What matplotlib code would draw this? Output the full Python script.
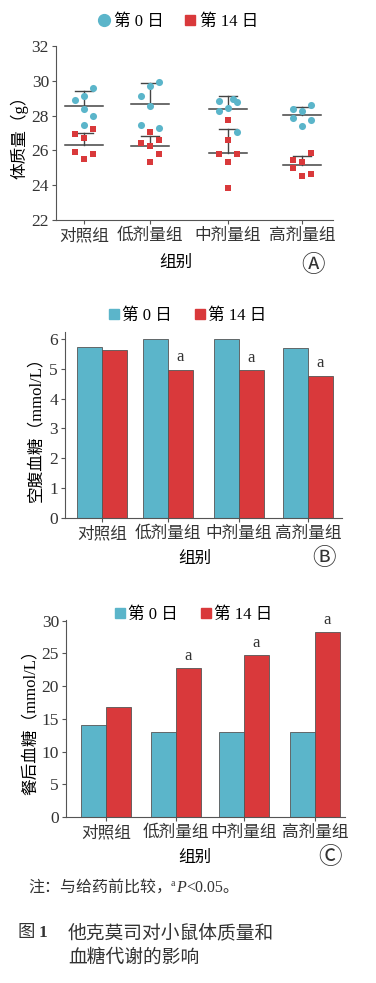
import matplotlib as mpl
import matplotlib.pyplot as plt
from matplotlib.lines import Line2D

mpl.rcParams['font.family'] = ['Liberation Serif', 'Noto Sans CJK SC', 'DejaVu Sans']
mpl.rcParams['font.size'] = 11.5
mpl.rcParams['axes.linewidth'] = 0.8
mpl.rcParams['axes.edgecolor'] = '#555555'
mpl.rcParams['xtick.color'] = '#555555'
mpl.rcParams['ytick.color'] = '#555555'
mpl.rcParams['xtick.labelcolor'] = '#333333'
mpl.rcParams['ytick.labelcolor'] = '#333333'

CYAN = '#5bb5ca'
RED = '#d9393b'
DARK = '#444444'

groups = ['对照组', '低剂量组', '中剂量组', '高剂量组']
legend_labels = ['第 0 日', '第 14 日']

# panel A: body weight (g), individual mice
day0_weight = [
    [28.90, 29.15, 29.59, 28.40, 27.96, 27.46],
    [29.93, 29.72, 29.15, 28.55, 27.46, 27.31],
    [28.86, 28.95, 28.80, 28.46, 28.26, 27.08],
    [28.38, 28.59, 28.25, 27.84, 27.75, 27.42],
]
day14_weight = [
    [26.96, 27.21, 26.73, 25.93, 25.77, 25.51],
    [27.04, 26.62, 26.43, 26.25, 25.77, 25.33],
    [27.73, 26.58, 25.77, 25.77, 25.33, 23.86],
    [25.85, 25.45, 25.35, 24.97, 24.62, 24.55],
]
day0_mean = [28.55, 28.69, 28.40, 28.05]
day0_sd = [0.86, 1.16, 0.75, 0.43]
day14_mean = [26.33, 26.25, 25.87, 25.18]
day14_sd = [0.69, 0.56, 1.34, 0.48]

# panel B: fasting glucose (mmol/L)
fasting_day0 = [5.73, 5.99, 5.98, 5.68]
fasting_day14 = [5.62, 4.97, 4.95, 4.77]
fasting_sig = [False, True, True, True]

# panel C: postprandial glucose (mmol/L)
post_day0 = [14.0, 13.0, 13.0, 13.0]
post_day14 = [16.8, 22.8, 24.8, 28.3]
post_sig = [False, True, True, True]

# layout (pixel-like x units inside each axes)
W, H = 376, 983
pos_a = [28, 94, 172, 246]
jit0 = [[-1, 0, 1, 0, 1, 0], [1, 0, -1, 0, -1, 1], [-1, 0.5, 1, 0, -1, 1], [-1, 1, 0, -1, 1, 0]]
jit14 = [[-1, 1, 0, -1, 1, 0], [0, 1, -1, 0, 1, 0], [0, 0, -1, 1, 0, 0], [1, -1, 0, -1, 1, 0]]
pos_b = [37, 103, 174, 243]
pos_c = [40, 110, 178, 249]
bw = 25


def px_axes(left, top, right, bottom):
    return fig.add_axes([left / W, 1 - bottom / H, (right - left) / W, (bottom - top) / H])


def style(ax):
    for s in ['top', 'right']:
        ax.spines[s].set_visible(False)
    ax.tick_params(direction='out', length=3, width=0.8, labelsize=12.5, pad=2)
    ax.tick_params(axis='x', labelsize=12, pad=3)


fig = plt.figure(figsize=(W / 100, H / 100), dpi=100)

# ---------- A ----------
axA = px_axes(56, 46, 333, 220)
style(axA)
for i in range(4):
    axA.scatter([pos_a[i] + 9 * j for j in jit0[i]], day0_weight[i], s=26, marker='o',
                color=CYAN, zorder=3, linewidths=0)
    axA.scatter([pos_a[i] + 9 * j for j in jit14[i]], day14_weight[i], s=22, marker='s',
                color=RED, zorder=3, linewidths=0)
    for m, sd in [(day0_mean[i], day0_sd[i]), (day14_mean[i], day14_sd[i])]:
        axA.plot([pos_a[i] - 19, pos_a[i] + 19], [m, m], color=DARK, lw=1.1, zorder=2)
        axA.plot([pos_a[i], pos_a[i]], [m, m + sd], color=DARK, lw=1.0, zorder=2)
        axA.plot([pos_a[i] - 9, pos_a[i] + 9], [m + sd, m + sd], color=DARK, lw=1.0, zorder=2)
axA.set_xlim(0, 277)
axA.set_ylim(22, 32)
axA.set_yticks(range(22, 33, 2))
axA.set_xticks(pos_a)
axA.set_xticklabels(groups)
axA.set_ylabel('体质量（g）', fontsize=12, labelpad=2)
hA = [Line2D([], [], marker='o', ls='', color=CYAN, ms=8.5),
      Line2D([], [], marker='s', ls='', color=RED, ms=6.5)]
fig.legend(hA, legend_labels, loc='center', bbox_to_anchor=(176 / W, 1 - 22 / H), ncol=2,
           frameon=False, handletextpad=0.0, columnspacing=1.0, handlelength=1.2, fontsize=12)
fig.text(176 / W, 1 - 263 / H, '组别', ha='center', va='center', fontsize=12)
fig.text(313 / W, 1 - 265 / H, 'Ⓐ', ha='center', va='center', fontsize=17,
         family=['DejaVu Sans', 'Noto Sans CJK SC'], color='#333333')


def bars(ax, pos, v0, v14, sig):
    ax.bar([p - bw / 2 for p in pos], v0, width=bw, color=CYAN, edgecolor='#555555', lw=0.6)
    ax.bar([p + bw / 2 for p in pos], v14, width=bw, color=RED, edgecolor='#555555', lw=0.6)
    for p, v, s in zip(pos, v14, sig):
        if s:
            ax.annotate('a', (p + bw / 2, v), xytext=(0, 3), textcoords='offset points',
                        ha='center', va='bottom', fontsize=12, color='#333333')
    ax.set_xticks(pos)
    ax.set_xticklabels(groups)


# ---------- B ----------
axB = px_axes(65, 332, 342, 518)
style(axB)
bars(axB, pos_b, fasting_day0, fasting_day14, fasting_sig)
axB.set_xlim(0, 277)
axB.set_ylim(0, 6.23)
axB.set_yticks(range(0, 7))
axB.set_ylabel('空腹血糖（mmol/L）', fontsize=12, labelpad=4)
hB = [Line2D([], [], marker='s', ls='', color=CYAN, ms=7),
      Line2D([], [], marker='s', ls='', color=RED, ms=7)]
fig.legend(hB, legend_labels, loc='center', bbox_to_anchor=(186 / W, 1 - 316 / H), ncol=2,
           frameon=False, handletextpad=0.0, columnspacing=1.2, handlelength=1.0, fontsize=12)
fig.text(195 / W, 1 - 559 / H, '组别', ha='center', va='center', fontsize=12)
fig.text(324 / W, 1 - 558 / H, 'Ⓑ', ha='center', va='center', fontsize=17,
         family=['DejaVu Sans', 'Noto Sans CJK SC'], color='#333333')

# ---------- C ----------
axC = px_axes(66, 620, 345, 817)
style(axC)
bars(axC, pos_c, post_day0, post_day14, post_sig)
axC.set_xlim(0, 279)
axC.set_ylim(0, 30.1)
axC.set_yticks(range(0, 31, 5))
axC.set_ylabel('餐后血糖（mmol/L）', fontsize=12, labelpad=2)
fig.legend(hB, legend_labels, loc='center', bbox_to_anchor=(192 / W, 1 - 615 / H), ncol=2,
           frameon=False, handletextpad=0.0, columnspacing=1.2, handlelength=1.0, fontsize=12)
fig.text(195 / W, 1 - 858 / H, '组别', ha='center', va='center', fontsize=12)
fig.text(330 / W, 1 - 857 / H, 'Ⓒ', ha='center', va='center', fontsize=17,
         family=['DejaVu Sans', 'Noto Sans CJK SC'], color='#333333')

# ---------- notes ----------
fig.text(28 / W, 1 - 888 / H, '注：与给药前比较，', ha='left', va='center', fontsize=11.5, color='#333333')
fig.text(171 / W, 1 - 884 / H, 'a', ha='left', va='center', fontsize=7, color='#333333')
fig.text(176 / W, 1 - 888 / H, 'P', ha='left', va='center', fontsize=11.5, style='italic', color='#333333')
fig.text(186 / W, 1 - 888 / H, '<0.05。', ha='left', va='center', fontsize=11.5, color='#333333')
fig.text(18 / W, 1 - 933 / H, '图 ', ha='left', va='center', fontsize=12.5, color='#333333')
fig.text(39 / W, 1 - 933 / H, '1', ha='left', va='center', fontsize=12.5, weight='bold', color='#333333')
fig.text(68 / W, 1 - 933 / H, '他克莫司对小鼠体质量和', ha='left', va='center', fontsize=13.5, color='#333333')
fig.text(68 / W, 1 - 958 / H, '血糖代谢的影响', ha='left', va='center', fontsize=13.5, color='#333333')

fig.savefig('out.png', dpi=100)
